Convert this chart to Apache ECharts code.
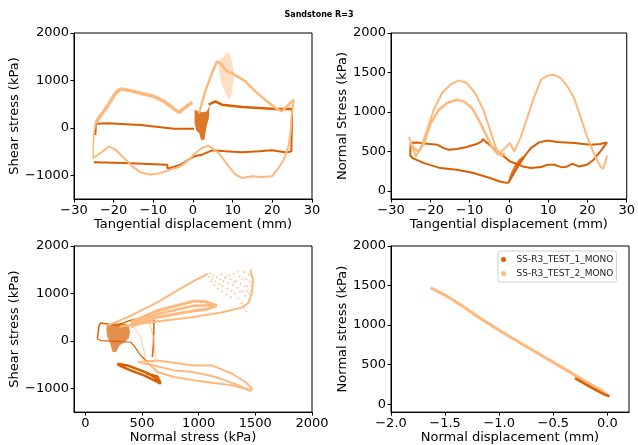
<!DOCTYPE html>
<html>
<head>
<meta charset="utf-8">
<script src="https://cdn.jsdelivr.net/npm/echarts@6/dist/echarts.min.js"></script>
<style>
  html, body { margin: 0; padding: 0; background: #fff; }
  #chart { width: 638px; height: 445px; }
</style>
</head>
<body>
<div id="chart"></div>
<script>
// legend names
const TEST1 = 'SS-R3_TEST_1_MONO'
const TEST2 = 'SS-R3_TEST_2_MONO'

// tick labels
const ticksShear = [-1000, 0, 1000, 2000]
const ticksNormal = [0, 500, 1000, 1500, 2000]
const ticksTang = [-30, -20, -10, 0, 10, 20, 30]
const ticksNormDisp = [-2.0, -1.5, -1.0, -0.5, 0.0]

// panel 1 : shear stress vs tangential displacement
const p1DarkUpper = [[-24.6, -150], [-24.5, 88], [-21.6, 95], [-13.2, 60], [-4.8, -17], [0.25, -17]]
const p1DarkLower = [[-25, -727], [-17.4, -741], [-6.5, -776], [-6.4, -860], [-3.1, -776], [0.25, -600], [2.3, -565], [4.8, -474], [8.2, -495], [12.4, -516], [16.6, -495], [19.9, -474], [23.5, -520], [24.8, -495], [25, 398]]
const p1DarkRight = [[3.95, 489], [5.6, 559], [7.3, 489], [12.4, 440], [16.6, 419], [20.8, 398], [25, 398]]
const p1DarkCloud = [[0.4, 380], [1.5, 340], [2.5, 330], [3.5, 350], [4.2, 470], [4.0, 200], [3.5, 60], [3.1, -120], [2.9, -250], [2.0, -250], [1.6, -120], [0.8, -50], [0.4, 100]]
const p1LightUpper = [[-24.5, 102], [-23.7, 208], [-21.6, 454], [-19.5, 735], [-18.2, 820], [-16.6, 800], [-13.2, 730], [-9.8, 662], [-7.3, 559], [-4.8, 398], [-3.5, 327], [-1.8, 440], [-0.2, 538]]
const p1LightLeft = [[-24.5, 102], [-25, -100], [-25.2, -635]]
const p1LightLower = [[-25.2, -635], [-23.3, -530], [-21.2, -390], [-19.5, -460], [-17.4, -635], [-15.3, -811], [-13.2, -938], [-10.7, -987], [-8.2, -952], [-5.6, -881], [-3.1, -811], [-1, -670], [0.6, -530], [2.3, -425], [3.95, -375], [6.5, -530], [9, -811], [10.7, -987], [12.4, -1057], [14.9, -1022], [17.4, -1036], [19.9, -1022], [21.6, -846], [22.9, -670], [24.1, -390], [24.6, -100], [24.8, 200], [25.4, 594]]
const p1LightRise = [[1.5, 300], [3.1, 770], [4.8, 1157], [6.1, 1403], [7, 1350], [8.5, 1200], [9.8, 1157], [13.2, 981], [15.7, 770], [18.2, 594], [20.8, 419], [22.4, 348], [24.1, 489], [25.4, 594]]
const p1LightCloud = [[6.3, 1380], [7.0, 1450], [7.7, 1500], [8.4, 1580], [9.0, 1590], [9.6, 1480], [10.2, 1250], [10.3, 1050], [9.7, 700], [9.2, 590], [8.7, 640], [8.0, 780], [7.2, 900], [6.6, 1150]]

// panel 2 : normal stress vs tangential displacement
const p2DarkA = [[-25, 608], [-23.3, 616], [-20.8, 599], [-18.2, 587], [-16.6, 544], [-15.3, 523], [-13.2, 532], [-10.7, 557], [-8.2, 595], [-6.9, 629], [-6.6, 658], [-6, 629], [-3.9, 544], [-1.8, 460], [0.25, 376], [1.4, 355], [3.5, 312], [5.6, 291], [8.2, 304], [9.8, 333], [11.5, 333], [13.6, 300], [14.9, 312], [16.1, 346], [17.8, 312], [19.9, 333], [21.6, 397], [23.3, 502], [25, 616]]
const p2DarkB = [[-25, 608], [-25.1, 450], [-24.5, 418], [-21.6, 354], [-17.4, 291], [-13.2, 270], [-9, 228], [-4.8, 165], [-2.3, 122], [-0.2, 101]]
const p2DarkC = [[-0.2, 101], [1, 200], [2.3, 312], [3.95, 439], [5.6, 544], [7.7, 616], [9.8, 641], [12.4, 620], [16.6, 608], [20.8, 587], [23.3, 595], [25, 616]]
const p2DarkCloud = [[-0.2, 100], [0.5, 150], [1.5, 250], [2.5, 330], [3.5, 380], [4.0, 430], [3.5, 440], [2.5, 400], [1.5, 330], [0.5, 230], [0, 160]]
const p2LightA = [[-25.4, 684], [-24.5, 560], [-23.7, 439], [-22.4, 544], [-20.8, 776], [-19.1, 1030], [-17, 1241], [-14.9, 1346], [-12.8, 1401], [-10.7, 1367], [-8.6, 1241], [-6.5, 1030], [-4.8, 776], [-3.1, 523], [-2.3, 481], [-1, 544], [0.25, 608], [1.4, 502], [1.85, 481], [3.1, 692], [4.8, 945], [6.5, 1198], [8.2, 1409], [9.8, 1460], [11.5, 1473], [13.2, 1430], [14.9, 1325], [16.6, 1177], [18.2, 945], [19.9, 692], [21.6, 481], [23.3, 312], [24, 279], [24.5, 355], [25, 447]]
const p2LightB = [[-25.2, 600], [-24, 540], [-23, 500], [-21.6, 608], [-19.9, 861], [-17.8, 1030], [-15.7, 1114], [-13.2, 1156], [-11.5, 1135], [-9.4, 1051], [-7.7, 903], [-6, 734], [-4.4, 565], [-3.1, 481], [-2, 450], [-1, 480]]

// panel 3 : shear stress vs normal stress
const p3DarkUpper = [[106, 42], [121, 322], [135, 378], [194, 357], [282, 322], [385, 427], [488, 476], [533, 531], [577, 497], [606, 427], [600, -98], [591, -342]]
const p3DarkBottom = [[106, 42], [135, 7], [282, -10], [400, -28], [430, -98], [488, -307], [533, -412], [600, -440]]
const p3DarkLoop = [[282, -482], [371, -517], [488, -622], [562, -692], [650, -831], [665, -901], [577, -796], [518, -727], [400, -622], [312, -531], [282, -482]]
const p3DarkLoop2 = [[540, -700], [600, -720], [640, -750], [660, -880]]
const p3DarkCloud = [[190, 340], [250, 370], [320, 380], [380, 340], [395, 200], [385, 60], [350, -20], [300, -100], [270, -240], [240, -230], [220, -60], [195, 80], [185, 250]]
const p3LightTop = [[194, 322], [371, 497], [636, 812], [783, 1021], [959, 1266], [1059, 1385], [1075, 1420]]
const p3LightHornUp = [[400, 390], [636, 637], [959, 840], [1060, 826], [1162, 742]]
const p3LightHornMid = [[400, 340], [636, 567], [959, 740], [1100, 750], [1162, 742]]
const p3LightHornLow = [[1162, 742], [1060, 660], [959, 637], [636, 497], [400, 300]]
const p3LightB = [[300, 300], [450, 350], [700, 430], [941, 497], [1200, 600], [1383, 707], [1440, 800], [1471, 1021], [1480, 1300], [1456, 1476]]
const p3LightLowA = [[459, -447], [636, -412], [959, -517], [1118, -517], [1295, -692], [1412, -866], [1471, -1006], [1456, -1055], [1353, -936], [1236, -831], [1118, -740], [941, -656], [783, -621], [606, -517], [459, -447]]
const p3LightLowB = [[547, -447], [636, -656], [783, -761], [959, -831], [1118, -880], [1295, -936], [1412, -1006], [1471, -1040]]
const p3LightLink1 = [[420, 300], [490, 80], [535, -400]]
const p3LightLink2 = [[560, 420], [600, 100], [620, -420]]
const p3LightCloud = [[1070, 1400], [1090, 1350], [1100, 1420], [1110, 1250], [1120, 1300], [1130, 1380], [1140, 1180], [1150, 1250], [1160, 1340], [1170, 1100], [1180, 1200], [1190, 1300], [1200, 1400], [1205, 1040], [1210, 1150], [1220, 1260], [1230, 1330], [1240, 1350], [1245, 980], [1250, 1100], [1260, 1220], [1270, 1380], [1280, 1300], [1285, 920], [1290, 1050], [1300, 1180], [1310, 1420], [1315, 1240], [1320, 1000], [1330, 1260], [1340, 1120], [1345, 1460], [1350, 900], [1360, 1350], [1365, 1030], [1370, 1200], [1380, 800], [1385, 1300], [1390, 1050], [1400, 1450], [1400, 700], [1405, 1150], [1410, 950], [1420, 1300], [1420, 620], [1425, 1050], [1430, 1150], [1440, 1400], [1440, 850], [1445, 1000], [1450, 1250], [1460, 1500], [1460, 1050], [1465, 1150], [1470, 1350], [1475, 1200]]

// panel 4 : normal stress vs normal displacement
const p4Light = [[-1.634, 1472], [-1.5, 1380], [-1.35, 1250], [-1.2, 1110], [-1.0, 935], [-0.8, 770], [-0.6, 610], [-0.4, 450], [-0.2, 285], [-0.05, 170], [0.01, 101]]
const p4Dark = [[-0.3, 330], [-0.2, 250], [-0.1, 175], [-0.03, 125], [0.02, 100]]

const DARK = '#d95f02'
const LIGHT = '#fdb97d'
const FONT = 'DejaVu Sans'

function minus(v) {
  return String(v).replace('-', '\u2212')
}

function colorOf(name) {
  return name === TEST1 ? DARK : LIGHT
}

function line(name, data, idx, width, opacity) {
  const color = colorOf(name)
  return {
    name: name,
    type: 'line',
    xAxisIndex: idx,
    yAxisIndex: idx,
    data: data,
    showSymbol: false,
    symbol: 'none',
    silent: true,
    itemStyle: { color: color },
    lineStyle: { color: color, width: width, opacity: opacity || 1 }
  }
}

// dense point clouds drawn as a filled outline
function cloud(name, pts, idx, opacity) {
  const color = colorOf(name)
  return {
    name: name,
    type: 'custom',
    xAxisIndex: idx,
    yAxisIndex: idx,
    data: [pts[0]],
    silent: true,
    itemStyle: { color: color },
    renderItem: function (params, api) {
      return {
        type: 'polygon',
        shape: { points: pts.map(function (p) { return api.coord(p) }) },
        style: { fill: color, opacity: opacity }
      }
    }
  }
}

function xAxis(idx, min, max, ticks, name, fmt) {
  return {
    type: 'value',
    gridIndex: idx,
    min: min,
    max: max,
    name: name,
    nameLocation: 'middle',
    nameGap: 18,
    nameTextStyle: { color: '#000', fontSize: 13, fontFamily: FONT },
    axisLine: { show: true, onZero: false, lineStyle: { color: '#000' } },
    axisTick: { show: true, length: 3.5, customValues: ticks, lineStyle: { color: '#000' } },
    axisLabel: { customValues: ticks, color: '#000', fontSize: 13, fontFamily: FONT, margin: 5, formatter: fmt || minus },
    splitLine: { show: false }
  }
}

function yAxis(idx, min, max, ticks, name, gap) {
  return {
    type: 'value',
    gridIndex: idx,
    min: min,
    max: max,
    name: name,
    nameLocation: 'middle',
    nameGap: gap,
    nameTextStyle: { color: '#000', fontSize: 13, fontFamily: FONT },
    axisLine: { show: true, onZero: false, lineStyle: { color: '#000' } },
    axisTick: { show: true, length: 3.5, customValues: ticks, lineStyle: { color: '#000' } },
    axisLabel: { customValues: ticks, color: '#000', fontSize: 13, fontFamily: FONT, margin: 5, formatter: minus },
    splitLine: { show: false }
  }
}

const chart = echarts.init(document.getElementById('chart'))
const gridBox = { show: true, borderColor: '#000', borderWidth: 1, containLabel: false }

chart.setOption({
  animation: false,
  backgroundColor: '#fff',
  title: {
    text: 'Sandstone R=3',
    left: 'center',
    top: 6,
    textStyle: { fontSize: 8, fontWeight: 'bold', fontFamily: FONT, color: '#000' }
  },
  legend: {
    data: [{ name: TEST1, icon: 'circle' }, { name: TEST2, icon: 'circle' }],
    orient: 'vertical',
    left: 498,
    top: 251,
    padding: [3, 3, 3, 3],
    itemWidth: 16,
    itemHeight: 5,
    itemGap: 3,
    borderColor: '#d0d0d0',
    borderWidth: 1,
    borderRadius: 2,
    backgroundColor: '#fff',
    selectedMode: false,
    textStyle: { fontSize: 9, fontFamily: FONT, color: '#222', lineHeight: 11 }
  },
  grid: [
    Object.assign({ left: 74, top: 33, width: 238, height: 166 }, gridBox),
    Object.assign({ left: 391, top: 33, width: 238, height: 166 }, gridBox),
    Object.assign({ left: 74, top: 246, width: 238, height: 167 }, gridBox),
    Object.assign({ left: 391, top: 246, width: 238, height: 167 }, gridBox)
  ],
  xAxis: [
    xAxis(0, -30, 30, ticksTang, 'Tangential displacement (mm)'),
    xAxis(1, -30, 30, ticksTang, 'Tangential displacement (mm)'),
    xAxis(2, -100, 2000, ticksNormal, 'Normal stress (kPa)'),
    xAxis(3, -2.0, 0.2, ticksNormDisp, 'Normal displacement (mm)', function (v) { return minus(v.toFixed(1)) })
  ],
  yAxis: [
    yAxis(0, -1500, 2000, ticksShear, 'Shear stress (kPa)', 49),
    yAxis(1, -100, 2000, ticksNormal, 'Normal Stress (kPa)', 37),
    yAxis(2, -1500, 2000, ticksShear, 'Shear stress (kPa)', 49),
    yAxis(3, -100, 2000, ticksNormal, 'Normal stress (kPa)', 37)
  ],
  series: [
    // panel 1
    line(TEST1, p1DarkUpper, 0, 2),
    line(TEST1, p1DarkLower, 0, 2),
    line(TEST1, p1DarkRight, 0, 2.5),
    cloud(TEST1, p1DarkCloud, 0, 0.85),
    line(TEST2, p1LightUpper, 0, 3.5),
    line(TEST2, p1LightLeft, 0, 1.5),
    line(TEST2, p1LightLower, 0, 2),
    line(TEST2, p1LightRise, 0, 2.5),
    cloud(TEST2, p1LightCloud, 0, 0.45),
    // panel 2
    line(TEST1, p2DarkA, 1, 2),
    line(TEST1, p2DarkB, 1, 2),
    line(TEST1, p2DarkC, 1, 2),
    cloud(TEST1, p2DarkCloud, 1, 0.85),
    line(TEST2, p2LightA, 1, 2),
    line(TEST2, p2LightB, 1, 2.5),
    // panel 3
    line(TEST1, p3DarkUpper, 2, 1.5),
    line(TEST1, p3DarkBottom, 2, 1.2),
    line(TEST1, p3DarkLoop, 2, 2.5),
    line(TEST1, p3DarkLoop2, 2, 2),
    cloud(TEST1, p3DarkCloud, 2, 0.7),
    line(TEST2, p3LightTop, 2, 2),
    line(TEST2, p3LightHornUp, 2, 3),
    line(TEST2, p3LightHornMid, 2, 2.5),
    line(TEST2, p3LightHornLow, 2, 3),
    line(TEST2, p3LightB, 2, 2),
    line(TEST2, p3LightLowA, 2, 2),
    line(TEST2, p3LightLowB, 2, 2),
    line(TEST2, p3LightLink1, 2, 0.8),
    line(TEST2, p3LightLink2, 2, 0.8),
    {
      name: TEST2,
      type: 'scatter',
      xAxisIndex: 2,
      yAxisIndex: 2,
      data: p3LightCloud,
      symbolSize: 2,
      silent: true,
      itemStyle: { color: LIGHT, opacity: 0.8 }
    },
    // panel 4
    line(TEST2, p4Light, 3, 3),
    line(TEST1, p4Dark, 3, 2.5)
  ]
})
</script>
</body>
</html>
